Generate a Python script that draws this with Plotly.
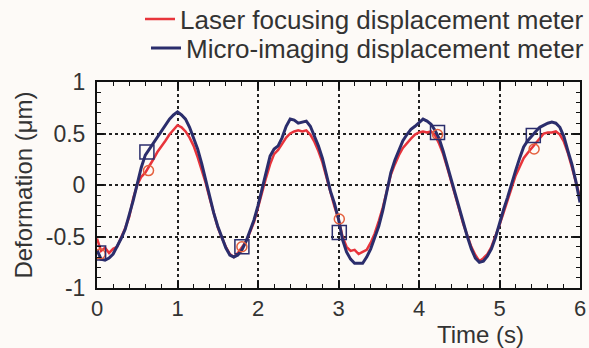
import plotly.graph_objects as go

# Sampling instants (s), 0.05 s step
time_s = [round(i * 0.05, 2) for i in range(121)]

# Micro-imaging displacement meter reading (µm)
micro_imaging = [
    -0.63, -0.72, -0.73, -0.71, -0.67, -0.60, -0.52, -0.43, -0.30, -0.15,
    0.01, 0.17, 0.29, 0.35, 0.40, 0.46, 0.53, 0.59, 0.64, 0.68,
    0.71, 0.68, 0.64, 0.56, 0.46, 0.35, 0.21, 0.05, -0.12, -0.27,
    -0.40, -0.50, -0.61, -0.68, -0.70, -0.68, -0.63, -0.55, -0.45, -0.34,
    -0.20, -0.03, 0.14, 0.28, 0.35, 0.38, 0.46, 0.57, 0.64, 0.63,
    0.60, 0.61, 0.62, 0.57, 0.48, 0.38, 0.26, 0.11, -0.06, -0.18,
    -0.33, -0.53, -0.65, -0.72, -0.76, -0.76, -0.76, -0.70, -0.62, -0.51,
    -0.40, -0.25, -0.06, 0.12, 0.24, 0.34, 0.43, 0.49, 0.54, 0.57,
    0.61, 0.64, 0.62, 0.59, 0.53, 0.45, 0.33, 0.19, 0.05, -0.09,
    -0.22, -0.35, -0.50, -0.62, -0.71, -0.75, -0.74, -0.69, -0.62, -0.51,
    -0.37, -0.24, -0.12, 0.02, 0.14, 0.26, 0.37, 0.43, 0.48, 0.52,
    0.56, 0.58, 0.60, 0.61, 0.60, 0.56, 0.47, 0.33, 0.20, 0.03,
    -0.17,
]

# Laser focusing displacement meter reading (µm)
laser_focusing = [
    -0.52, -0.64, -0.61, -0.66, -0.62, -0.60, -0.51, -0.42, -0.31, -0.13,
    0.00, 0.08, 0.12, 0.18, 0.25, 0.32, 0.37, 0.43, 0.49, 0.54,
    0.58, 0.56, 0.52, 0.46, 0.38, 0.27, 0.15, 0.02, -0.13, -0.27,
    -0.41, -0.51, -0.60, -0.67, -0.70, -0.66, -0.60, -0.55, -0.46, -0.36,
    -0.22, -0.07, 0.07, 0.20, 0.30, 0.34, 0.40, 0.46, 0.50, 0.52,
    0.53, 0.52, 0.53, 0.49, 0.42, 0.33, 0.22, 0.07, -0.08, -0.21,
    -0.33, -0.50, -0.60, -0.64, -0.63, -0.67, -0.65, -0.63, -0.56, -0.47,
    -0.35, -0.22, -0.06, 0.10, 0.20, 0.29, 0.36, 0.41, 0.45, 0.49,
    0.51, 0.52, 0.51, 0.52, 0.48, 0.40, 0.30, 0.17, 0.04, -0.10,
    -0.24, -0.38, -0.50, -0.60, -0.68, -0.74, -0.71, -0.67, -0.60, -0.50,
    -0.39, -0.27, -0.14, -0.03, 0.09, 0.18, 0.26, 0.31, 0.36, 0.40,
    0.46, 0.50, 0.51, 0.51, 0.52, 0.49, 0.42, 0.31, 0.17, 0.02,
    -0.12,
]

# Reference points marked on each record
square_t = [0.02, 0.62, 1.80, 3.01, 4.23, 5.42]
square_v = [-0.66, 0.32, -0.60, -0.46, 0.51, 0.48]
circle_t = [0.04, 0.64, 1.80, 3.01, 4.23, 5.43]
circle_v = [-0.67, 0.14, -0.60, -0.33, 0.49, 0.35]

x_ticks = [0, 1, 2, 3, 4, 5, 6]
y_ticks = [-1, -0.5, 0, 0.5, 1]
y_tick_text = ["-1", "-0.5", "0", "0.5", "1"]

RED = "#e8343b"
NAVY = "#2b2d6c"
TEXT = "#333333"
FONT = "Liberation Sans, Arial, sans-serif"
H = 348

fig = go.Figure()
fig.add_trace(go.Scatter(
    x=time_s, y=laser_focusing, mode="lines",
    name="Laser focusing displacement meter",
    line=dict(color=RED, width=2.5), legend="legend",
))
fig.add_trace(go.Scatter(
    x=time_s, y=micro_imaging, mode="lines",
    name="Micro-imaging displacement meter",
    line=dict(color=NAVY, width=3), legend="legend2",
))
fig.add_trace(go.Scatter(
    x=circle_t, y=circle_v, mode="markers", showlegend=False,
    marker=dict(symbol="circle-open", size=10, color="#e5603e",
                line=dict(width=1.5)),
))
fig.add_trace(go.Scatter(
    x=square_t, y=square_v, mode="markers", showlegend=False,
    marker=dict(symbol="square-open", size=14, color=NAVY,
                line=dict(width=1.5)),
))

axis_common = dict(
    showline=True, linecolor="#111111", linewidth=2, mirror="allticks",
    ticks="inside", ticklen=7, tickwidth=1.5, tickcolor="#111111",
    showgrid=True, gridcolor="#222222", gridwidth=1.5, griddash="dot",
    zeroline=False,
)

fig.update_xaxes(
    range=[0, 6], tickvals=x_ticks,
    minor=dict(dtick=0.2, ticks="inside", ticklen=4, tickcolor="#111111",
               tickwidth=1.2, showgrid=False),
    ticklabelstandoff=0,
    tickfont=dict(family=FONT, size=22, color=TEXT),
    **axis_common,
)
fig.update_yaxes(
    range=[-1, 1], tickvals=y_ticks, ticktext=y_tick_text,
    minor=dict(dtick=0.1, ticks="inside", ticklen=4, tickcolor="#111111",
               tickwidth=1.2, showgrid=False),
    ticklabelstandoff=5,
    tickfont=dict(family=FONT, size=23, color=TEXT),
    title=dict(text="Deformation (μm)", standoff=6,
               font=dict(family=FONT, size=24, color=TEXT)),
    **axis_common,
)

fig.add_annotation(
    text="Time (s)", xref="paper", yref="paper", x=0.795, y=-0.228,
    xanchor="center", yanchor="middle", showarrow=False,
    font=dict(family=FONT, size=24, color=TEXT),
)

legend_style = dict(
    xref="container", yref="container", x=1, xanchor="right",
    yanchor="middle", font=dict(family=FONT, size=26, color=TEXT),
    bgcolor="rgba(0,0,0,0)",
)

fig.update_layout(
    width=589, height=H,
    margin=dict(l=97, r=9, t=82, b=60, autoexpand=False),
    paper_bgcolor="#fdfaf7", plot_bgcolor="#fdfaf7",
    showlegend=True,
    legend=dict(y=1 - 19 / H, **legend_style),
    legend2=dict(y=1 - 48 / H, **legend_style),
)

fig.write_html("out.html")
